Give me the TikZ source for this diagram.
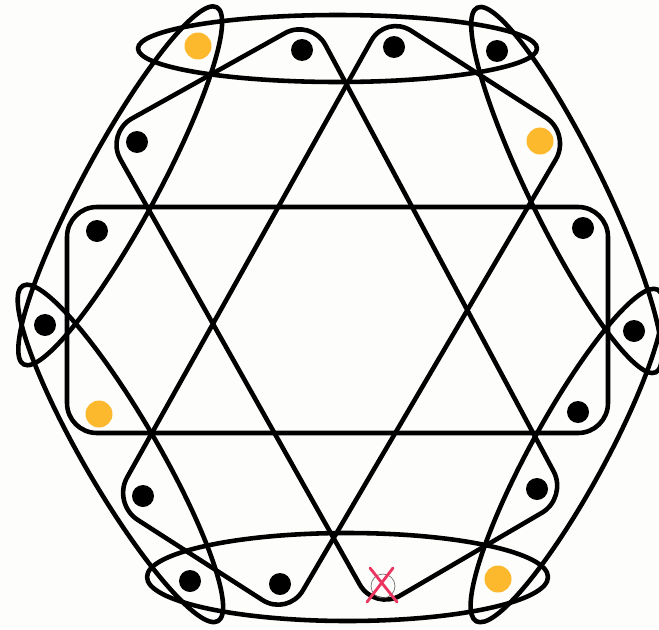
\documentclass[tikz,border=0pt]{standalone}
\usepackage{xcolor}
\usepackage{tikz}
\usetikzlibrary{calc,backgrounds}
\definecolor{gold}{HTML}{FCB92D}
\definecolor{cross}{HTML}{EB3560}
\definecolor{ring}{HTML}{707070}
\definecolor{paper}{HTML}{FDFDFB}
\newcommand{\hpad}{0.46cm}

\begin{document}
\begin{tikzpicture}[x=0.02cm,y=-0.02cm,
  vtx/.style={circle,fill=black,inner sep=0pt,minimum size=0.44cm},
  hot/.style={vtx,fill=gold,minimum size=0.54cm},
  gone/.style={circle,draw=ring,thin,inner sep=0pt,minimum size=0.48cm},
  hedge/.style={line width=2.6pt,line join=round},
  quad/.style={hedge,rounded corners=0.6cm},
  mark out/.style={draw=cross,line width=1.6pt,line cap=round}]
  \useasboundingbox (0,0) rectangle (659,629);
  \node[hot] (v1) at (198,46) {};
  \node[vtx] (v2) at (302,50) {};
  \node[vtx] (v3) at (394,47) {};
  \node[vtx] (v4) at (497,51) {};
  \node[vtx] (v5) at (137,142) {};
  \node[hot] (v6) at (540,141) {};
  \node[vtx] (v7) at (97,231) {};
  \node[vtx] (v8) at (583,228) {};
  \node[vtx] (v9) at (45,325) {};
  \node[vtx] (v10) at (634,331) {};
  \node[hot] (v11) at (99,414) {};
  \node[vtx] (v12) at (578,412) {};
  \node[vtx] (v13) at (143,496) {};
  \node[vtx] (v14) at (537,489) {};
  \node[vtx] (v15) at (190,581) {};
  \node[vtx] (v16) at (280,584) {};
  \node[gone] (v17) at (383,586) {};
  \node[hot] (v18) at (498,579) {};
  \coordinate (k17) at ($(v17)+(0,-7)$);
  \draw[mark out] ($(v17)+(-13,-18)$) -- ($(v17)+(14,16)$)
                  ($(v17)+(10,-18)$) -- ($(v17)+(-16,16)$);
  \begin{scope}[on background layer]
    \fill[paper] (0,0) rectangle (659,629);
    \foreach \cx/\cy/\ang/\ra/\rb in {337.5/48.5/0/199.5/33.5,347.5/577/0/200.5/44,
        120.2/185.8/61.6/203/37,120.4/453.4/-59.8/194/37,
        566.5/190/-63.9/203/37,567/455.5/61.3/189/37}
      \draw[hedge,rotate around={\ang:(\cx,\cy)}] (\cx,\cy) ellipse [x radius=\ra,y radius=\rb];
    \draw[quad] (67,207) rectangle (608,433);
    \foreach \a/\b/\c/\d in {v5/v2/v14/k17,v3/v6/v16/v13}
      \draw[quad] ($(\a)!-\hpad!(\b)+(\a)!-\hpad!(\d)-(\a)$)
        -- ($(\b)!-\hpad!(\c)+(\b)!-\hpad!(\a)-(\b)$)
        -- ($(\c)!-\hpad!(\d)+(\c)!-\hpad!(\b)-(\c)$)
        -- ($(\d)!-\hpad!(\a)+(\d)!-\hpad!(\c)-(\d)$) -- cycle;
  \end{scope}
\end{tikzpicture}
\end{document}
